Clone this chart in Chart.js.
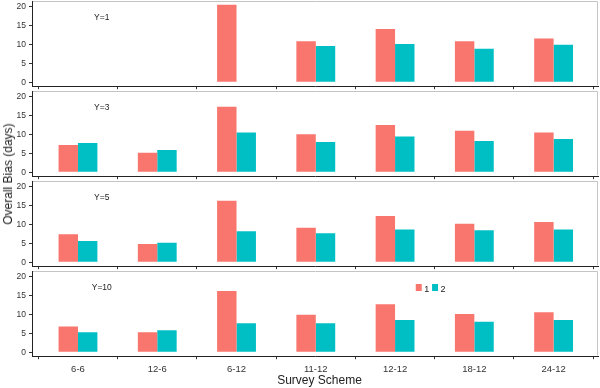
<!DOCTYPE html>
<html><head><meta charset="utf-8">
<script src="https://cdn.jsdelivr.net/npm/chart.js@4.4.1/dist/chart.umd.min.js"></script>
<style>
html,body{margin:0;padding:0;background:#fff;}
#wrap{position:relative;width:600px;height:388px;overflow:hidden;font-family:"Liberation Sans",Arial,sans-serif;}
canvas{position:absolute;left:0;}
.ttl{position:absolute;color:#222;font-size:12px;line-height:14px;white-space:nowrap;}
#xt{left:319.5px;top:380px;transform:translate(-50%,-50%);}
#yt{left:8px;top:174px;transform:translate(-50%,-50%) rotate(-90deg);}
</style></head><body>
<div id="wrap">
<canvas id="c0" width="600" height="90" style="top:0px"></canvas>
<canvas id="c1" width="600" height="90" style="top:90px"></canvas>
<canvas id="c2" width="600" height="90" style="top:180px"></canvas>
<canvas id="c3" width="600" height="118" style="top:270px"></canvas>
<div class="ttl" id="xt">Survey Scheme</div>
<div class="ttl" id="yt">Overall Bias (days)</div>
</div>
<script>
const categories = ['6-6','12-6','6-12','11-12','12-12','18-12','24-12'];
const panelLabels = ['Y=1','Y=3','Y=5','Y=10'];
const seriesNames = ['1','2'];
const yTicks = [0,5,10,15,20];

const y1_s1 = [null,null,20.5,10.85,14.1,10.85,11.6];
const y1_s2 = [null,null,null,9.6,10.1,8.9,9.9];
const y3_s1 = [7.2,5.2,17.35,10.05,12.5,11.0,10.5];
const y3_s2 = [7.75,5.9,10.5,8.0,9.5,8.3,8.8];
const y5_s1 = [7.4,4.85,16.3,9.15,12.25,10.2,10.65];
const y5_s2 = [5.65,5.2,8.2,7.67,8.7,8.45,8.7];
const y10_s1 = [6.8,5.3,16.2,9.9,12.7,10.1,10.6];
const y10_s2 = [5.3,5.8,7.67,7.67,8.55,8.1,8.55];

const panels = [[y1_s1,y1_s2],[y3_s1,y3_s2],[y5_s1,y5_s2],[y10_s1,y10_s2]];
const colors = ['#F8766D','#00BFC4'];
const FONT = '"Liberation Sans", Arial, sans-serif';

const deco = {
  id:'deco',
  afterDraw(chart, args, opts){
    const {ctx, chartArea:a, scales:{x,y}} = chart;
    ctx.save();
    ctx.strokeStyle = '#C4C4C4'; ctx.lineWidth = 1;
    ctx.beginPath();
    ctx.moveTo(a.left+1, Math.round(a.top)+0.5);
    ctx.lineTo(Math.round(a.right)-0.5, Math.round(a.top)+0.5);
    ctx.lineTo(Math.round(a.right)-0.5, a.bottom-1);
    ctx.stroke();
    ctx.fillStyle = '#222';
    ctx.font = '8.5px ' + FONT;
    ctx.textAlign = 'center'; ctx.textBaseline = 'middle';
    ctx.fillText(opts.label, x.getPixelForValue(0.3), y.getPixelForValue(17.1));
    if (opts.legend) {
      const x0 = a.left + 0.678*(a.right-a.left);
      const yTop = a.top + 13;
      chart.data.datasets.forEach((ds,i)=>{
        const rx = x0 + i*16.3;
        ctx.fillStyle = ds.backgroundColor;
        ctx.fillRect(rx, yTop, 6, 7);
        ctx.fillStyle = '#222';
        ctx.font = '9px ' + FONT;
        ctx.textAlign = 'left';
        ctx.fillText(ds.label, rx + 8.5, yTop + 6);
      });
    }
    ctx.restore();
  }
};

function makePanel(idx){
  const bottom = idx === 3;
  const canvasH = bottom ? 118 : 90;
  const areaH = 85.2;
  const padTop = 1;
  const datasets = panels[idx].map((vals,si)=>({
    label: seriesNames[si],
    data: vals.map((v,i)=>({x:i, y:v})).filter(p=>p.y!==null),
    backgroundColor: colors[si],
    borderWidth: 0,
    categoryPercentage: 0.49,
    barPercentage: 1.0
  }));
  new Chart(document.getElementById('c'+idx), {
    type:'bar',
    data:{datasets},
    plugins:[deco],
    options:{
      responsive:false, animation:false,
      layout:{padding:{top:padTop,left:0,right:2,bottom:0}},
      plugins:{legend:{display:false}, tooltip:{enabled:false},
        deco:{label:panelLabels[idx], legend:bottom}},
      scales:{
        x:{type:'linear', min:-0.58, max:6.56, offset:false,
          afterBuildTicks:s=>{s.ticks = categories.map((c,i)=>({value:i}));},
          afterFit:s=>{s.height = canvasH - padTop - areaH; s.paddingLeft = 0; s.paddingRight = 0;},
          ticks:{display:bottom, autoSkip:false, maxRotation:0, padding:4,
            callback:v=>categories[v], color:'#333', font:{size:9.5, family:FONT}},
          grid:{drawOnChartArea:false, drawTicks:true, tickLength:3, tickColor:'#333'},
          border:{display:true, color:'#222', width:1}
        },
        y:{type:'linear', min:-1.03, max:21.5,
          afterBuildTicks:s=>{s.ticks = yTicks.map(v=>({value:v}));},
          afterFit:s=>{s.width = 32; s.paddingTop = 0; s.paddingBottom = 0;},
          ticks:{padding:3, color:'#333', font:{size:8.5, family:FONT}},
          grid:{drawOnChartArea:false, drawTicks:true, tickLength:3, tickColor:'#333'},
          border:{display:true, color:'#222', width:1}
        }
      }
    }
  });
}
[0,1,2,3].forEach(makePanel);
</script>
</body></html>
